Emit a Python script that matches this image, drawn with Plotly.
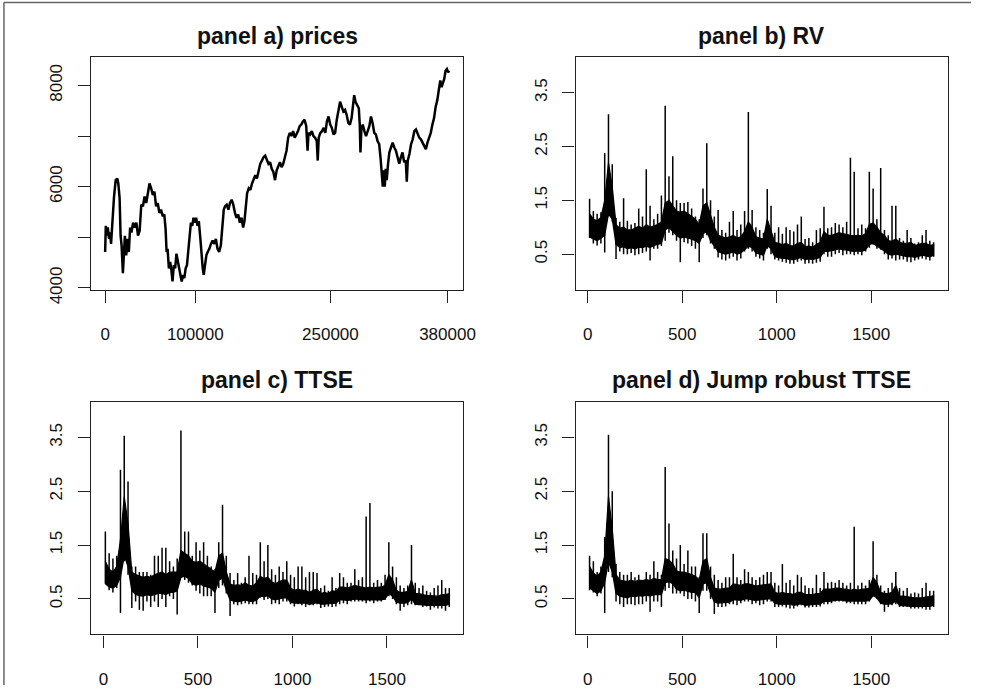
import plotly.graph_objects as go

W, H = 983, 700

# ---------------- data ----------------
# panel a) prices : tick index and price level
price_idx = [0, 730, 1820, 2920, 4380, 5470, 6560, 8020, 9850, 11670, 13490, 14590, 16050, 17140,
             18240, 19690, 20790, 21880, 23340, 24800, 26260, 27720, 29180, 31000, 32820, 34650,
             36470, 38290, 40120, 41940, 43760, 45590, 47410, 49230, 51060, 52880, 54700, 56530,
             58350, 60170, 62000, 63820, 65640, 67100, 68200, 69290, 70750, 72210, 73670, 74760,
             76220, 77680, 79140, 80600, 82060, 83520, 84980, 86430, 87890, 89350, 90810, 92270,
             93730, 95190, 96650, 98110, 99560, 101020, 102480, 103940, 105400, 106860, 108320,
             109410, 110870, 112330, 113790, 115610, 117430, 119260, 121080, 122900, 124730,
             126550, 128370, 130190, 131660, 133120, 134940, 136760, 138590, 140410, 142230,
             144060, 145880, 147700, 149530, 151350, 153170, 154630, 156090, 157550, 159370,
             161200, 163020, 164840, 166670, 168490, 170310, 172140, 173960, 175780, 177610,
             179430, 181250, 183080, 184900, 186720, 188550, 190370, 192190, 194020, 195840,
             197660, 199490, 201310, 203130, 204960, 206780, 208600, 210430, 212250, 214070,
             215900, 217720, 219540, 221370, 223190, 224650, 225740, 227560, 229390, 231210,
             233030, 234860, 235950, 237050, 238870, 240690, 242520, 244340, 246160, 247990,
             249810, 251630, 253460, 255280, 257100, 258930, 260750, 262570, 264400, 266220,
             268040, 269870, 271690, 273510, 274970, 276430, 277890, 279720, 281540, 282630,
             283360, 284460, 285920, 287740, 289560, 291390, 293210, 295030, 296860, 298680,
             300500, 302330, 304150, 305610, 307070, 308160, 309260, 310350, 311450, 312540,
             314000, 315460, 317280, 319110, 320930, 322750, 324580, 326400, 328220, 330050,
             331870, 333690, 334790, 335880, 337710, 339530, 341350, 343180, 345000, 346820,
             348650, 350470, 352290, 354120, 355940, 357760, 359590, 361410, 363230, 365060,
             366880, 368700, 370530, 371990, 373450, 374910, 376370, 377830, 379290, 380750,
             381840]
price_val = [4710, 5226, 5032, 5194, 4968, 5097, 4871, 5387, 5806, 6129, 6161, 6064, 5774, 5032,
             4839, 4290, 4774, 5032, 4645, 4968, 4710, 5194, 5097, 5290, 5194, 5290,
             5032, 5129, 5645, 5613, 5806, 5677, 5871, 6064, 5968, 5839, 5903, 5613,
             5677, 5484, 5548, 5419, 5452, 5161, 4710, 4774, 4387, 4516, 4322, 4129,
             4452, 4387, 4677, 4516, 4387, 4258, 4129, 4258, 4194, 4387, 4452, 4774,
             5097, 5290, 5226, 5387, 5290, 5387, 5226, 5322, 5032, 4645, 4387,
             4258, 4516, 4645, 4710, 4774, 4871, 4935, 4871, 4968, 4774,
             4710, 4839, 5161, 5548, 5613, 5645, 5548, 5677, 5742, 5645,
             5484, 5387, 5452, 5290, 5387, 5194, 5322, 5548, 5871, 5968,
             5935, 6064, 6129, 6226, 6161, 6322, 6452, 6516, 6581, 6613,
             6516, 6452, 6484, 6355, 6290, 6129, 6322, 6387, 6484, 6387,
             6452, 6581, 6710, 6968, 7064, 7000, 7097, 6968, 7032, 7097,
             7194, 7226, 7290, 7323, 7194, 6710, 7064, 7032, 7097, 7000,
             6968, 6903, 6516, 6968, 7064, 7097, 7161, 7064, 7290, 7387,
             7226, 7161, 7032, 7064, 7323, 7516, 7677, 7581, 7484, 7516,
             7419, 7258, 7226, 7355, 7613, 7806, 7677, 7613, 7548, 7226,
             6677, 7161, 7226, 7097, 7000, 7097, 7194, 7387, 7258, 7064,
             7032, 6903, 6839, 6581, 6258, 6000, 6323, 6000, 6355, 6129,
             6452, 6677, 6774, 6871, 6774, 6710, 6581, 6452, 6581, 6677,
             6484, 6516, 6097, 6516, 6645, 6839, 6935, 7097, 7129, 7032,
             6968, 6935, 6871, 6806, 6742, 6871, 6968, 7064, 7226, 7355,
             7581, 7710, 7935, 8097, 7968, 8064, 8129, 8290, 8323, 8258,
             8290]

# panels b-d: daily series, read per block of 20 days as
# min / max (thin spikes) and the dense core band (core_lo .. core_hi)
block_days = 20
rv_lo = [0.80, 0.70, 0.66, 0.70, 0.53, 1.20, 1.10, 0.41, 0.55, 0.50, 0.50, 0.52, 0.48, 0.50, 0.52,
         0.55, 0.38, 0.60, 0.60, 0.65, 0.75, 0.90, 0.85, 0.75, 0.35, 0.72, 0.70, 0.65, 0.60, 0.35,
         0.80, 0.85, 0.70, 0.60, 0.44, 0.40, 0.38, 0.42, 0.45, 0.38, 0.42, 0.55, 0.60, 0.55, 0.45,
         0.42, 0.38, 0.60, 0.50, 0.40, 0.38, 0.36, 0.34, 0.32, 0.32, 0.36, 0.38, 0.32, 0.33, 0.32,
         0.34, 0.36, 0.50, 0.45, 0.45, 0.50, 0.52, 0.48, 0.50, 0.50, 0.48, 0.50, 0.48, 0.55, 0.62,
         0.68, 0.60, 0.58, 0.50, 0.40, 0.42, 0.38, 0.40, 0.40, 0.36, 0.35, 0.38, 0.40, 0.42, 0.40,
         0.38, 0.45]
rv_hi = [1.53, 1.30, 1.25, 1.28, 2.38, 3.10, 2.17, 1.17, 1.10, 1.54, 1.12, 1.05, 1.08, 1.35, 1.20,
         2.08, 1.40, 1.15, 1.25, 1.59, 3.26, 1.95, 2.32, 1.50, 1.45, 1.45, 1.47, 1.35, 1.20, 1.15,
         1.72, 2.56, 1.50, 1.20, 1.32, 0.95, 0.90, 1.10, 1.30, 0.95, 1.05, 1.30, 3.14, 1.32, 1.00,
         0.95, 0.90, 1.71, 1.40, 0.90, 1.00, 0.88, 1.00, 0.95, 0.92, 1.05, 1.20, 0.78, 0.80, 0.72,
         0.95, 0.98, 1.38, 0.98, 1.00, 1.08, 1.05, 1.00, 1.10, 2.29, 2.03, 0.98, 1.05, 0.98, 2.03,
         1.72, 1.15, 2.10, 0.95, 0.85, 1.40, 1.40, 0.80, 0.75, 0.95, 0.80, 0.70, 0.72, 0.85, 0.95,
         0.75, 0.72]
rv_core_lo = [0.82, 0.78, 0.75, 0.80, 0.85, 1.25, 1.15, 0.68, 0.62, 0.64, 0.60, 0.62, 0.60, 0.63,
              0.62, 0.65, 0.62, 0.66, 0.68, 0.70, 0.95, 1.00, 0.92, 0.85, 0.80, 0.82, 0.80, 0.78,
              0.75, 0.70, 0.88, 0.92, 0.75, 0.65, 0.55, 0.52, 0.50, 0.52, 0.54, 0.50, 0.52, 0.58,
              0.65, 0.62, 0.52, 0.50, 0.48, 0.66, 0.60, 0.45, 0.44, 0.42, 0.42, 0.40, 0.40, 0.42,
              0.44, 0.40, 0.41, 0.40, 0.42, 0.44, 0.55, 0.55, 0.56, 0.58, 0.60, 0.58, 0.58, 0.56,
              0.55, 0.56, 0.55, 0.58, 0.68, 0.70, 0.65, 0.60, 0.56, 0.50, 0.48, 0.50, 0.48, 0.47,
              0.45, 0.46, 0.44, 0.46, 0.48, 0.46, 0.45, 0.48]
rv_core_hi = [1.25, 1.15, 1.12, 1.18, 1.50, 2.20, 1.75, 1.05, 0.98, 1.00, 0.95, 0.95, 0.98, 1.02,
              0.98, 1.05, 1.00, 1.02, 1.05, 1.10, 1.45, 1.50, 1.40, 1.30, 1.28, 1.30, 1.25, 1.20,
              1.15, 1.05, 1.40, 1.45, 1.20, 1.00, 0.85, 0.82, 0.80, 0.82, 0.85, 0.80, 0.82, 0.92,
              1.10, 1.00, 0.82, 0.80, 0.78, 1.15, 0.95, 0.72, 0.70, 0.68, 0.70, 0.66, 0.65, 0.70,
              0.72, 0.64, 0.65, 0.63, 0.68, 0.72, 0.92, 0.85, 0.85, 0.88, 0.90, 0.88, 0.86, 0.85,
              0.84, 0.85, 0.84, 0.88, 1.05, 1.08, 1.00, 0.90, 0.85, 0.75, 0.74, 0.78, 0.72, 0.70,
              0.70, 0.72, 0.66, 0.68, 0.70, 0.70, 0.66, 0.68]

ttse_lo = [0.78, 0.66, 0.62, 0.70, 0.24, 1.20, 0.95, 0.33, 0.45, 0.30, 0.28, 0.45, 0.35, 0.45, 0.35,
           0.50, 0.35, 0.55, 0.50, 0.21, 0.90, 0.85, 0.80, 0.75, 0.65, 0.60, 0.55, 0.55, 0.55, 0.24,
           0.70, 0.75, 0.60, 0.18, 0.40, 0.38, 0.40, 0.42, 0.40, 0.40, 0.40, 0.52, 0.48, 0.50, 0.40,
           0.42, 0.40, 0.45, 0.45, 0.40, 0.36, 0.40, 0.38, 0.35, 0.38, 0.38, 0.40, 0.33, 0.35, 0.36,
           0.35, 0.36, 0.40, 0.42, 0.40, 0.45, 0.45, 0.45, 0.45, 0.42, 0.45, 0.42, 0.45, 0.45, 0.48,
           0.55, 0.50, 0.40, 0.28, 0.35, 0.38, 0.40, 0.38, 0.38, 0.35, 0.36, 0.30, 0.34, 0.32, 0.32,
           0.28, 0.35]
ttse_hi = [1.75, 1.35, 1.25, 1.30, 2.90, 3.53, 2.68, 1.10, 1.10, 1.00, 1.00, 1.00, 0.95, 1.30, 1.30,
           1.45, 1.45, 1.20, 1.10, 1.25, 3.63, 1.75, 1.75, 1.30, 1.55, 1.40, 1.55, 1.30, 1.10, 1.05,
           1.55, 2.25, 1.30, 0.98, 0.85, 0.98, 0.80, 0.90, 1.30, 0.98, 0.95, 1.55, 1.20, 1.50, 1.05,
           0.95, 1.10, 1.00, 1.20, 0.95, 0.90, 1.10, 1.10, 0.90, 1.00, 1.00, 0.98, 0.70, 0.75, 0.65,
           0.90, 0.70, 0.98, 0.90, 0.80, 0.80, 1.05, 0.85, 0.90, 2.03, 2.28, 0.80, 0.85, 0.80, 0.95,
           1.55, 1.10, 0.90, 0.75, 0.70, 0.75, 1.50, 0.80, 0.70, 0.75, 0.65, 0.62, 0.70, 0.75, 0.85,
           0.70, 0.70]
ttse_core_lo = [0.78, 0.72, 0.70, 0.75, 0.90, 1.30, 1.10, 0.65, 0.58, 0.56, 0.55, 0.58, 0.56, 0.58,
                0.60, 0.60, 0.58, 0.62, 0.62, 0.65, 0.90, 0.92, 0.88, 0.78, 0.75, 0.78, 0.74, 0.72,
                0.70, 0.62, 0.85, 0.88, 0.66, 0.48, 0.46, 0.45, 0.46, 0.48, 0.46, 0.45, 0.48, 0.55,
                0.54, 0.56, 0.50, 0.48, 0.50, 0.52, 0.52, 0.44, 0.42, 0.43, 0.42, 0.42, 0.40, 0.42,
                0.43, 0.40, 0.40, 0.41, 0.42, 0.42, 0.48, 0.48, 0.47, 0.48, 0.50, 0.49, 0.48, 0.47,
                0.48, 0.47, 0.48, 0.48, 0.50, 0.60, 0.55, 0.44, 0.42, 0.42, 0.43, 0.50, 0.40, 0.40,
                0.39, 0.38, 0.38, 0.38, 0.37, 0.38, 0.38, 0.40]
ttse_core_hi = [1.20, 1.05, 1.00, 1.10, 1.60, 2.40, 1.90, 1.00, 0.95, 0.92, 0.90, 0.92, 0.90, 0.95,
                0.98, 1.00, 0.95, 1.00, 1.00, 1.00, 1.40, 1.35, 1.30, 1.20, 1.18, 1.20, 1.15, 1.10,
                1.05, 1.00, 1.30, 1.35, 1.00, 0.78, 0.75, 0.76, 0.75, 0.80, 0.75, 0.74, 0.80, 0.92,
                0.88, 0.90, 0.82, 0.78, 0.82, 0.85, 0.85, 0.70, 0.66, 0.68, 0.66, 0.66, 0.62, 0.66,
                0.68, 0.60, 0.62, 0.60, 0.65, 0.64, 0.72, 0.72, 0.70, 0.72, 0.75, 0.73, 0.72, 0.70,
                0.72, 0.70, 0.72, 0.72, 0.75, 0.95, 0.85, 0.66, 0.62, 0.62, 0.64, 0.85, 0.60, 0.60,
                0.58, 0.56, 0.56, 0.56, 0.55, 0.58, 0.58, 0.60]

jr_lo = [0.66, 0.62, 0.55, 0.60, 0.24, 1.00, 0.90, 0.45, 0.40, 0.35, 0.40, 0.40, 0.38, 0.40, 0.40,
         0.45, 0.26, 0.45, 0.45, 0.35, 0.65, 0.70, 0.60, 0.60, 0.60, 0.55, 0.50, 0.50, 0.45, 0.24,
         0.65, 0.65, 0.50, 0.22, 0.35, 0.35, 0.36, 0.40, 0.40, 0.38, 0.42, 0.45, 0.45, 0.40, 0.42,
         0.38, 0.40, 0.45, 0.45, 0.35, 0.35, 0.36, 0.34, 0.32, 0.32, 0.36, 0.38, 0.34, 0.34, 0.35,
         0.35, 0.36, 0.40, 0.40, 0.42, 0.45, 0.45, 0.45, 0.42, 0.42, 0.40, 0.40, 0.40, 0.40, 0.45,
         0.55, 0.50, 0.40, 0.26, 0.35, 0.38, 0.40, 0.35, 0.35, 0.35, 0.32, 0.32, 0.32, 0.32, 0.30,
         0.30, 0.35]
jr_hi = [1.30, 1.20, 1.00, 1.10, 1.65, 3.55, 2.50, 1.15, 1.00, 0.95, 0.95, 1.00, 0.90, 0.95, 0.85,
         1.00, 0.95, 1.20, 1.00, 0.95, 2.95, 1.90, 1.40, 1.25, 1.50, 1.15, 1.40, 1.10, 1.10, 0.90,
         1.72, 1.72, 1.10, 0.95, 0.85, 0.80, 0.90, 0.90, 1.34, 0.90, 0.85, 1.05, 1.00, 0.90, 0.85,
         0.90, 0.95, 1.00, 1.00, 0.80, 0.75, 1.15, 0.80, 0.85, 0.75, 0.95, 0.90, 0.75, 0.70, 0.70,
         0.95, 0.70, 1.00, 0.80, 0.82, 0.80, 0.85, 0.80, 0.75, 0.80, 1.84, 0.75, 0.80, 0.75, 0.85,
         1.57, 0.95, 0.75, 0.65, 0.70, 0.80, 1.00, 0.70, 0.65, 0.70, 0.60, 0.62, 0.60, 0.70, 0.80,
         0.65, 0.65]
jr_core_lo = [0.70, 0.65, 0.60, 0.65, 0.80, 1.20, 1.00, 0.60, 0.55, 0.54, 0.52, 0.55, 0.54, 0.56,
              0.55, 0.57, 0.55, 0.58, 0.58, 0.58, 0.80, 0.82, 0.78, 0.68, 0.65, 0.66, 0.64, 0.62,
              0.62, 0.52, 0.78, 0.80, 0.60, 0.44, 0.42, 0.42, 0.43, 0.44, 0.48, 0.48, 0.47, 0.50,
              0.50, 0.48, 0.47, 0.48, 0.49, 0.50, 0.50, 0.42, 0.40, 0.41, 0.40, 0.40, 0.38, 0.40,
              0.41, 0.38, 0.38, 0.39, 0.40, 0.40, 0.46, 0.45, 0.46, 0.47, 0.48, 0.47, 0.46, 0.45,
              0.46, 0.45, 0.46, 0.46, 0.47, 0.56, 0.52, 0.42, 0.40, 0.40, 0.41, 0.46, 0.38, 0.37,
              0.37, 0.36, 0.36, 0.36, 0.35, 0.36, 0.36, 0.38]
jr_core_hi = [1.10, 0.98, 0.92, 1.00, 1.30, 2.40, 1.80, 0.95, 0.85, 0.84, 0.82, 0.85, 0.82, 0.85,
              0.84, 0.86, 0.84, 0.88, 0.86, 0.86, 1.25, 1.22, 1.15, 1.02, 1.00, 1.00, 0.98, 0.95,
              0.92, 0.85, 1.20, 1.25, 0.90, 0.70, 0.68, 0.68, 0.70, 0.70, 0.78, 0.76, 0.75, 0.78,
              0.78, 0.76, 0.74, 0.75, 0.76, 0.78, 0.78, 0.62, 0.60, 0.62, 0.60, 0.60, 0.58, 0.62,
              0.62, 0.58, 0.58, 0.58, 0.60, 0.60, 0.68, 0.68, 0.68, 0.70, 0.70, 0.68, 0.68, 0.66,
              0.68, 0.66, 0.68, 0.68, 0.70, 0.90, 0.80, 0.62, 0.60, 0.60, 0.62, 0.75, 0.55, 0.55,
              0.54, 0.52, 0.52, 0.52, 0.52, 0.54, 0.54, 0.56]

titles = ["panel a) prices", "panel b) RV", "panel c) TTSE", "panel d) Jump robust TTSE"]
price_xticks = [0, 100000, 250000, 380000]
price_yticks = [4000, 5000, 6000, 7000, 8000]
price_ylabels = ["4000", "", "6000", "", "8000"]
day_xticks = [0, 500, 1000, 1500]
vol_yticks = [0.5, 1.5, 2.5, 3.5]


def spikes(lo, hi):
    xs, ys = [], []
    for i, (l, h) in enumerate(zip(lo, hi)):
        xc = i * block_days + block_days / 2
        xs += [xc, xc, None]
        ys += [l, h, None]
    return xs, ys


def core(lo, hi):
    xc = [i * block_days + block_days / 2 for i in range(len(lo))]
    return xc + xc[::-1], list(hi) + list(lo)[::-1]


# ---------------- layout geometry (pixels) ----------------
boxes = [(92.5, 469.0, 58.5, 296.0), (582.7, 959.3, 58.5, 296.0),
         (92.5, 469.0, 410.7, 648.3), (582.7, 959.3, 410.7, 648.3)]

fig = go.Figure()
fig.add_trace(go.Scatter(x=price_idx, y=price_val, mode="lines",
                         line=dict(color="black", width=2.5), xaxis="x", yaxis="y"))
series = [(rv_lo, rv_hi, rv_core_lo, rv_core_hi),
          (ttse_lo, ttse_hi, ttse_core_lo, ttse_core_hi),
          (jr_lo, jr_hi, jr_core_lo, jr_core_hi)]
for k, (lo, hi, clo, chi) in enumerate(series, start=2):
    cx, cy = core(clo, chi)
    fig.add_trace(go.Scatter(x=cx, y=cy, mode="lines", fill="toself", fillcolor="black",
                             line=dict(color="black", width=1.2),
                             xaxis=f"x{k}", yaxis=f"y{k}"))
    sx, sy = spikes(lo, hi)
    fig.add_trace(go.Scatter(x=sx, y=sy, mode="lines", line=dict(color="black", width=1.5),
                             connectgaps=False, xaxis=f"x{k}", yaxis=f"y{k}"))

font = dict(family="Liberation Sans, Arial, sans-serif", size=17, color="#111")
axis_common = dict(showline=True, mirror=True, linecolor="#222", linewidth=1.4,
                   ticks="outside", ticklen=12, tickwidth=1.3, tickcolor="#222",
                   showgrid=False, zeroline=False, tickfont=font, fixedrange=True)

layout = dict(width=W, height=H, margin=dict(l=0, r=0, t=0, b=0),
              paper_bgcolor="white", plot_bgcolor="white", showlegend=False)
annotations = []
for k, (x0, x1, y0, y1) in enumerate(boxes, start=1):
    sfx = "" if k == 1 else str(k)
    xa = dict(axis_common, domain=[x0 / W, x1 / W], anchor=f"y{sfx}", ticklabelstandoff=17)
    ya = dict(axis_common, domain=[1 - y1 / H, 1 - y0 / H], anchor=f"x{sfx}",
              tickangle=-90, ticklabelstandoff=9)
    if k == 1:
        xa.update(range=[-15300, 397500], tickvals=price_xticks,
                  ticktext=[str(v) for v in price_xticks])
        ya.update(range=[3967, 8556], tickvals=price_yticks, ticktext=price_ylabels)
    else:
        xa.update(range=[-64, 1904], tickvals=day_xticks, ticktext=[str(v) for v in day_xticks])
        ya.update(range=[-0.16, 4.16], tickvals=vol_yticks, ticktext=[str(v) for v in vol_yticks])
    layout[f"xaxis{sfx}"] = xa
    layout[f"yaxis{sfx}"] = ya
    annotations.append(dict(text=titles[k - 1], xref="paper", yref="paper",
                            x=(x0 + x1) / 2 / W, y=1 - (y0 - 22) / H,
                            xanchor="center", yanchor="middle", showarrow=False,
                            font=dict(family="Liberation Sans, Arial, sans-serif", size=23,
                                      color="#111", weight="bold")))
layout["annotations"] = annotations
layout["shapes"] = [
    dict(type="line", xref="paper", yref="paper", x0=4 / W, x1=1, y0=1 - 2.5 / H, y1=1 - 2.5 / H,
         line=dict(color="#666", width=1.5)),
    dict(type="line", xref="paper", yref="paper", x0=4 / W, x1=4 / W, y0=0, y1=1 - 2.5 / H,
         line=dict(color="#666", width=1.5)),
]
fig.update_layout(**layout)
fig.write_html("out.html", config={"displayModeBar": False},
               post_script="document.body.style.margin='0';"
                           "document.body.style.overflow='hidden';")
